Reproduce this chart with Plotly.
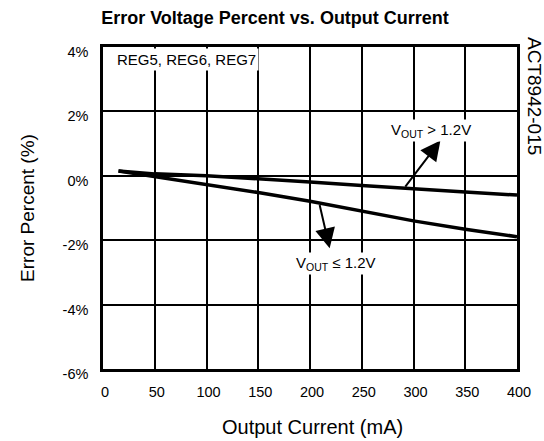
import plotly.graph_objects as go

# Data
current_ma = [15, 50, 100, 150, 200, 250, 300, 350, 400]
err_gt_12 = [0.15, 0.06, 0.0, -0.09, -0.19, -0.30, -0.39, -0.50, -0.60]
err_le_12 = [0.15, -0.02, -0.27, -0.52, -0.79, -1.09, -1.40, -1.66, -1.89]

x_ticks = [0, 50, 100, 150, 200, 250, 300, 350, 400]
y_ticks = [4, 2, 0, -2, -4, -6]
y_tick_text = ["4%", "2%", "0%", "-2%", "-4%", "-6%"]

FONT = "Liberation Sans, Arial, Helvetica, sans-serif"

W, H = 544, 441
ML, MR, MT, MB = 103, 27, 47, 72
PW, PH = W - ML - MR, H - MT - MB

fig = go.Figure()
fig.add_trace(go.Scatter(x=current_ma, y=err_gt_12, mode="lines",
                         line=dict(color="black", width=3.5), name="VOUT > 1.2V"))
fig.add_trace(go.Scatter(x=current_ma, y=err_le_12, mode="lines",
                         line=dict(color="black", width=3.5), name="VOUT <= 1.2V"))

# Arrow annotations
fig.add_annotation(x=326, y=1.1, ax=291, ay=-0.38, xref="x", yref="y",
                   axref="x", ayref="y", text="", showarrow=True,
                   arrowhead=2, arrowsize=2, arrowwidth=2, arrowcolor="black")
fig.add_annotation(x=317, y=1.4, xref="x", yref="y", showarrow=False,
                   text="V<sub>OUT</sub> > 1.2V", bgcolor="white", borderpad=1,
                   font=dict(family=FONT, size=15, color="black"))
fig.add_annotation(x=219, y=-2.25, ax=209, ay=-0.86, xref="x", yref="y",
                   axref="x", ayref="y", text="", showarrow=True,
                   arrowhead=2, arrowsize=2, arrowwidth=2, arrowcolor="black")
fig.add_annotation(x=225, y=-2.72, xref="x", yref="y", showarrow=False,
                   text="V<sub>OUT</sub> ≤ 1.2V", bgcolor="white", borderpad=1,
                   font=dict(family=FONT, size=15, color="black"))

fig.add_annotation(x=11, y=3.6, xref="x", yref="y", showarrow=False,
                   xanchor="left", text="REG5, REG6, REG7", bgcolor="white",
                   borderpad=2,
                   font=dict(family=FONT, size=15, color="black"))

fig.add_annotation(x=(535 - ML) / PW, y=1 - (96 - MT) / PH,
                   xref="paper", yref="paper", showarrow=False,
                   xanchor="center", yanchor="middle",
                   text="ACT8942-015", textangle=90,
                   font=dict(family=FONT, size=19, color="black"))

# x-axis title
fig.add_annotation(x=(312.5 - ML) / PW, y=-(427 - (MT + PH)) / PH,
                   xref="paper", yref="paper", showarrow=False,
                   xanchor="center", yanchor="middle",
                   text="Output Current (mA)",
                   font=dict(family=FONT, size=20, color="black"))

fig.update_layout(
    width=W, height=H,
    margin=dict(l=ML, r=MR, t=MT, b=MB),
    paper_bgcolor="white", plot_bgcolor="white",
    showlegend=False,
    font=dict(family=FONT, size=14, color="black"),
    title=dict(text="<b>Error Voltage Percent vs. Output Current</b>",
               x=275 / W, xanchor="center", y=1 - 17.5 / H, yanchor="middle",
               font=dict(family=FONT, size=18, color="black")),
)

fig.update_xaxes(range=[0, 400], tickvals=x_ticks, ticktext=[str(v) for v in x_ticks],
                 showgrid=True, gridcolor="black", gridwidth=2,
                 showline=True, linecolor="black", linewidth=2.5, mirror=True,
                 ticks="", ticklabelstandoff=8, ticklabelshift=2, zeroline=False,
                 tickfont=dict(family=FONT, size=14.5))
fig.update_yaxes(range=[-6, 4], tickvals=y_ticks, ticktext=y_tick_text,
                 showgrid=True, gridcolor="black", gridwidth=2,
                 showline=True, linecolor="black", linewidth=2.5, mirror=True,
                 ticks="", ticklabelstandoff=9, ticklabelshift=5, zeroline=False,
                 title=dict(text="Error Percent (%)", standoff=23,
                            font=dict(family=FONT, size=19)),
                 tickfont=dict(family=FONT, size=14.5))

fig.write_html("out.html", config={"displayModeBar": False},
               post_script="document.body.style.margin='0';")
